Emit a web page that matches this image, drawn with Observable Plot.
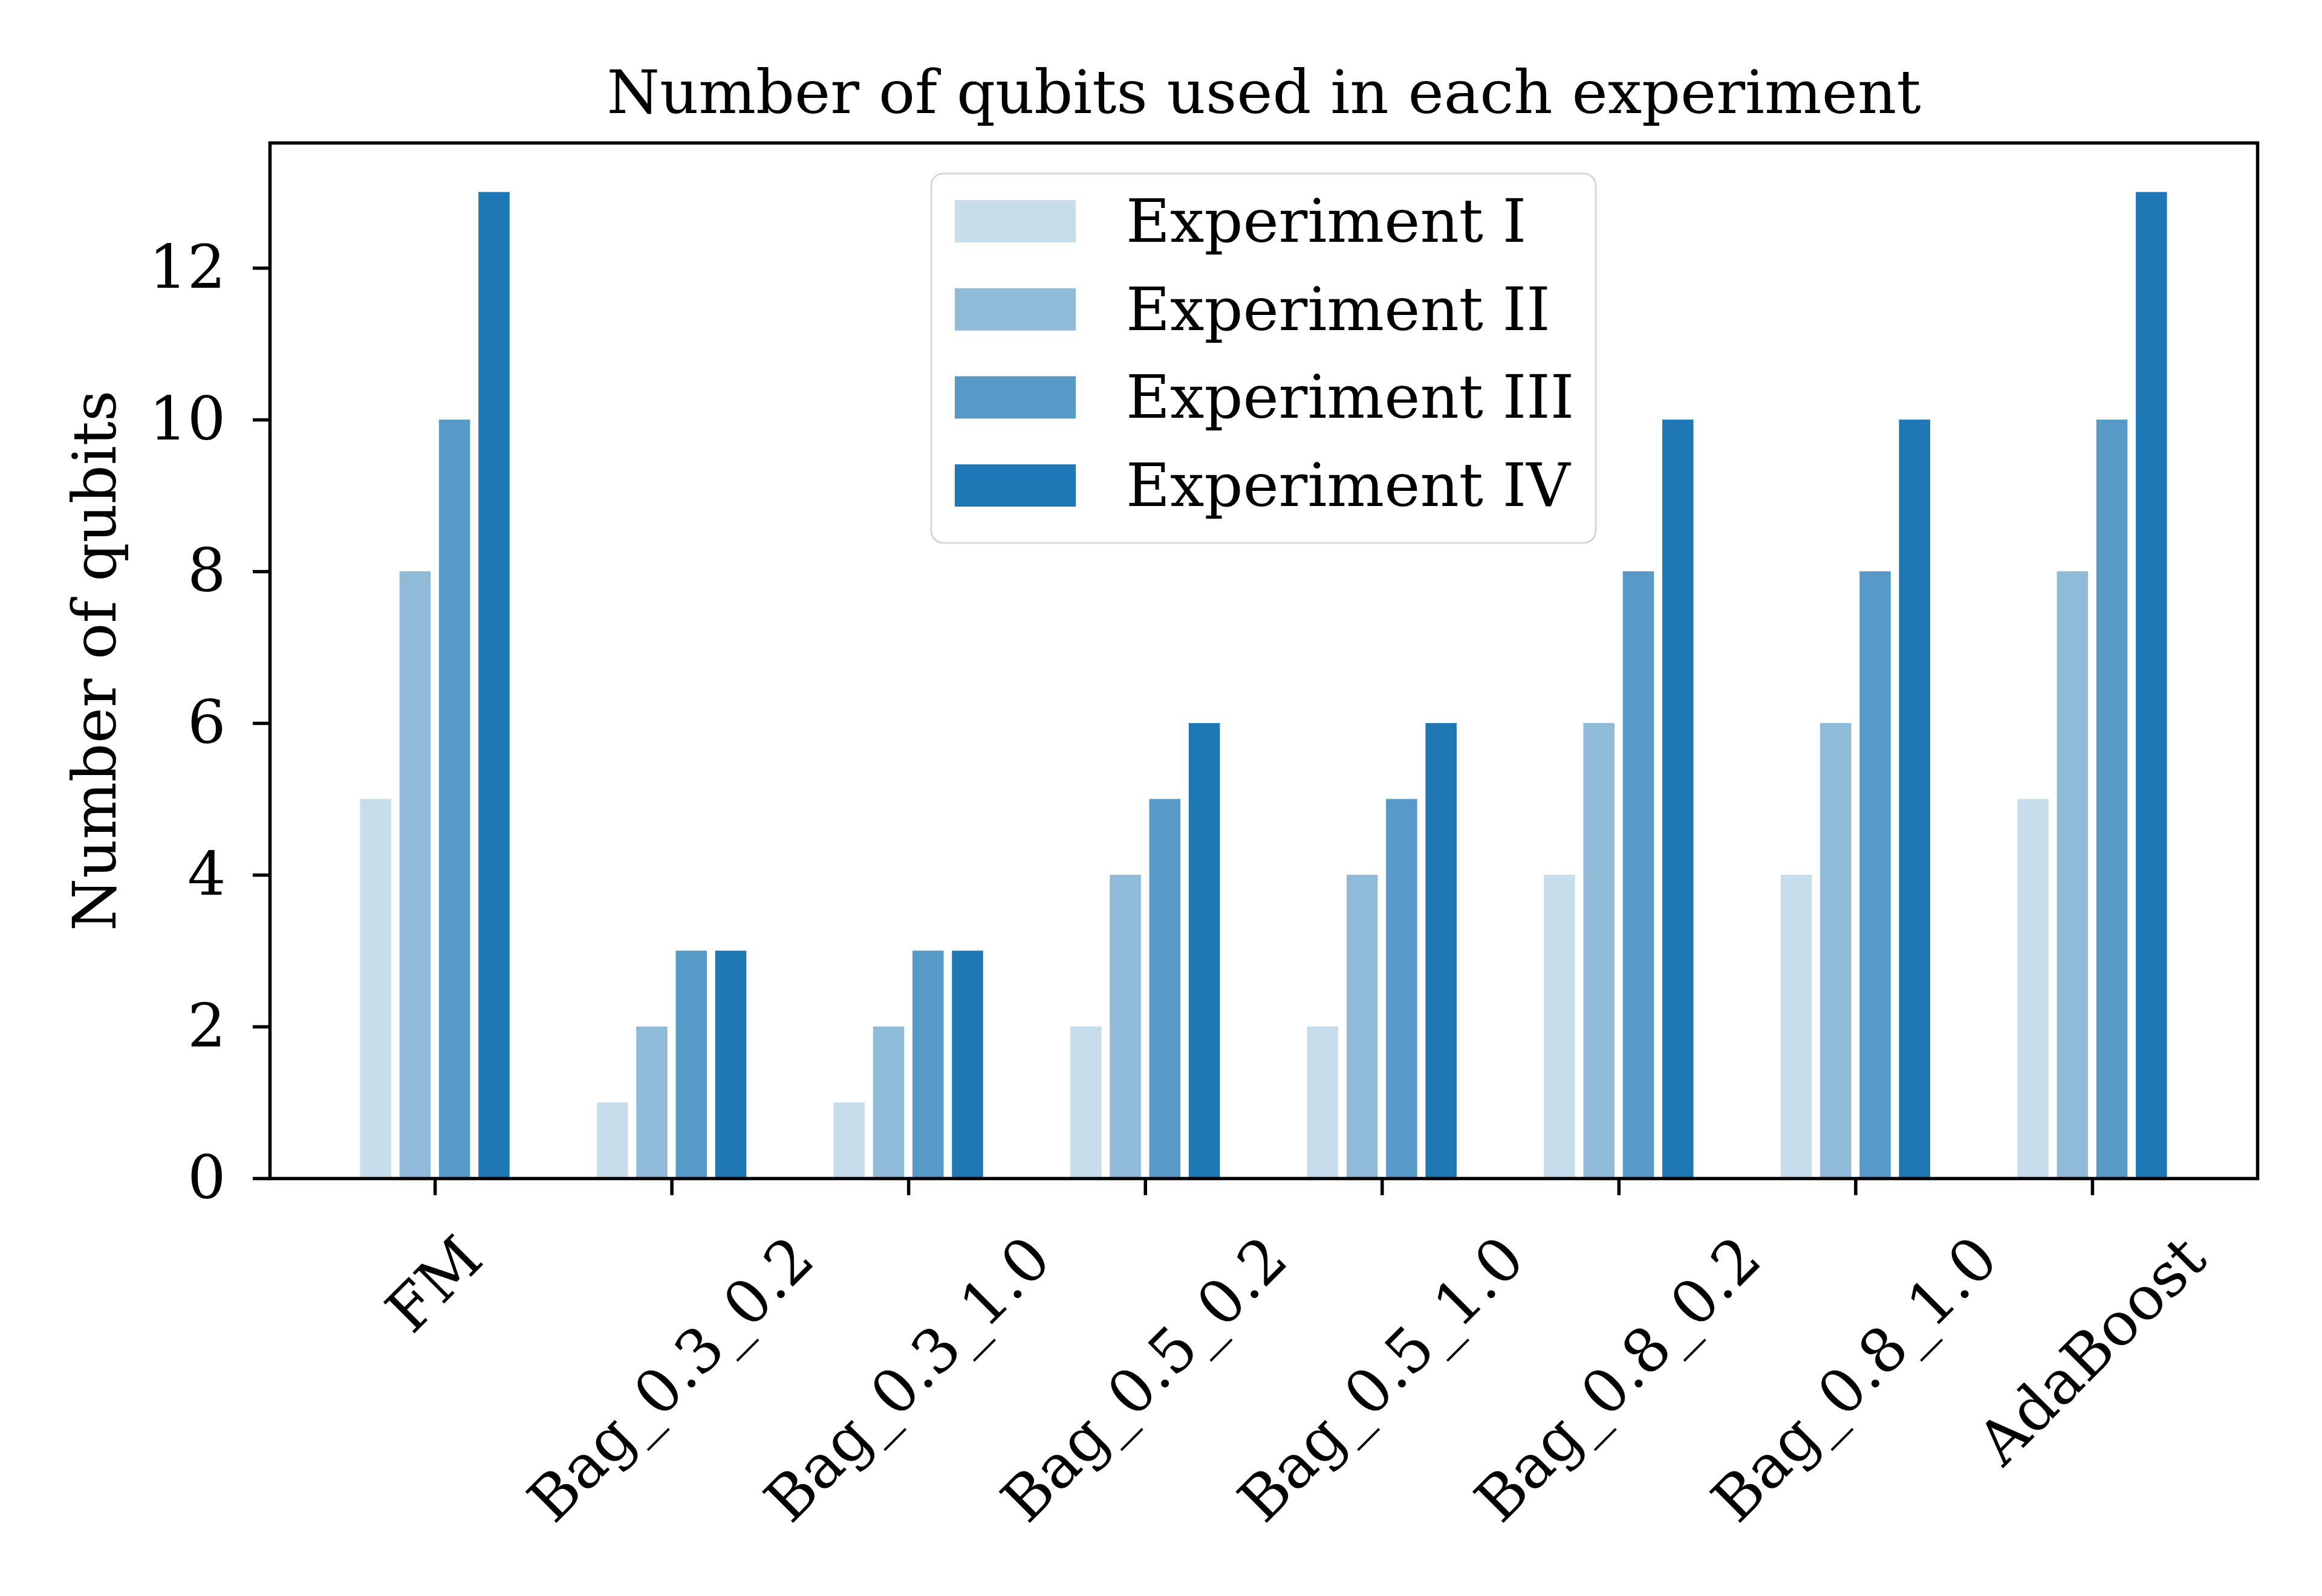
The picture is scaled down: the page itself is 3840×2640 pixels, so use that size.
<!DOCTYPE html>
<html>
<head>
<meta charset="utf-8">
<script src="https://cdn.jsdelivr.net/npm/d3@7"></script>
<script src="https://cdn.jsdelivr.net/npm/@observablehq/plot@0.6"></script>
<style>
  html, body { margin: 0; padding: 0; background: #fff; }
  #chart { width: 3840px; height: 2640px; }
</style>
</head>
<body>
<div id="chart"></div>
<script>
const categories = ["FM", "Bag_0.3_0.2", "Bag_0.3_1.0", "Bag_0.5_0.2", "Bag_0.5_1.0", "Bag_0.8_0.2", "Bag_0.8_1.0", "AdaBoost"];
const series = ["Experiment I", "Experiment II", "Experiment III", "Experiment IV"];
const exp1 = [5, 1, 1, 2, 2, 4, 4, 5];
const exp2 = [8, 2, 2, 4, 4, 6, 6, 8];
const exp3 = [10, 3, 3, 5, 5, 8, 8, 10];
const exp4 = [13, 3, 3, 6, 6, 10, 10, 13];
const colors = ["#c7ddec", "#8fbbd9", "#5799c7", "#1f77b4"];
const yTicks = [0, 2, 4, 6, 8, 10, 12];
const title = "Number of qubits used in each experiment";
const yLabel = "Number of qubits";

const values = [exp1, exp2, exp3, exp4];
const FONT = "DejaVu Serif";
const FS = 100;
const step = 1 / 6, barW = 0.1316;
const off = j => (j - (series.length - 1) / 2) * step;

const data = categories.flatMap((c, i) => series.map((s, j) => ({cat: c, i, s, j, v: values[j][i]})));

// matplotlib-like 5% margins on x
const lo = d3.min(data, d => d.i + off(d.j) - barW / 2);
const hi = d3.max(data, d => d.i + off(d.j) + barW / 2);
const xDomain = [lo - 0.05 * (hi - lo), hi + 0.05 * (hi - lo)];
const yMax = d3.max(data, d => d.v) * 1.05;

const ctx = document.createElement("canvas").getContext("2d");
ctx.font = `${FS}px "${FONT}"`;
const measure = t => ctx.measureText(t).width;

const labelMarks = categories.map((c, i) => Plot.text([{c, i}], {
  x: "i", text: "c", frameAnchor: "bottom", rotate: -45,
  textAnchor: "middle", lineAnchor: "middle",
  dy: 90 + (measure(c) + 73) / (2 * Math.SQRT2),
  fontSize: FS, fill: "black"
}));

const plot = Plot.plot({
  width: 3840, height: 2640,
  marginLeft: 446, marginRight: 107, marginTop: 236, marginBottom: 691,
  style: {fontFamily: FONT, fontSize: FS + "px", background: "white", color: "black"},
  x: {type: "linear", domain: xDomain, axis: null},
  y: {domain: [0, yMax], axis: null},
  color: {domain: series, range: colors},
  marks: [
    Plot.rect(data, {
      x1: d => d.i + off(d.j) - barW / 2,
      x2: d => d.i + off(d.j) + barW / 2,
      y1: () => 0, y2: "v", fill: "s", inset: 0
    }),
    Plot.frame({stroke: "black", strokeWidth: 5.5}),
    Plot.axisY(yTicks, {anchor: "left", tickSize: 28, tickPadding: 45, strokeWidth: 5.5, fontSize: FS, label: null, tickFormat: d => d}),
    Plot.axisX(categories.map((c, i) => i), {anchor: "bottom", tickSize: 28, strokeWidth: 5.5, tickFormat: () => "", label: null}),
    ...labelMarks,
    Plot.text([title], {text: d => d, frameAnchor: "top", lineAnchor: "bottom", dy: -50, fontSize: FS}),
    Plot.text([yLabel], {text: d => d, frameAnchor: "left", rotate: -90, textAnchor: "middle", lineAnchor: "bottom", dx: -256, fontSize: FS})
  ]
});
document.getElementById("chart").appendChild(plot);

// Legend (matplotlib style, upper center inside axes)
const svg = d3.select(plot);
const lg = svg.append("g").attr("class", "legend").attr("text-anchor", "start");
const L = {x: 1540, y: 287, w: 1099, h: 611, padX: 39, patchTop: 44, rowH: 145.7, pw: 200, ph: 70, textX: 322};
lg.append("rect").attr("x", L.x).attr("y", L.y).attr("width", L.w).attr("height", L.h)
  .attr("rx", 20).attr("ry", 20).attr("fill", "white").attr("fill-opacity", 0.8)
  .attr("stroke", "#d6d6d6").attr("stroke-width", 3);
series.forEach((s, j) => {
  const top = L.y + L.patchTop + j * L.rowH;
  lg.append("rect").attr("x", L.x + L.padX).attr("y", top).attr("width", L.pw).attr("height", L.ph).attr("fill", colors[j]);
  lg.append("text").attr("x", L.x + L.textX).attr("y", top + L.ph - 1)
    .attr("text-anchor", "start")
    .attr("font-family", FONT).attr("font-size", FS).attr("fill", "black").text(s);
});
</script>
</body>
</html>
